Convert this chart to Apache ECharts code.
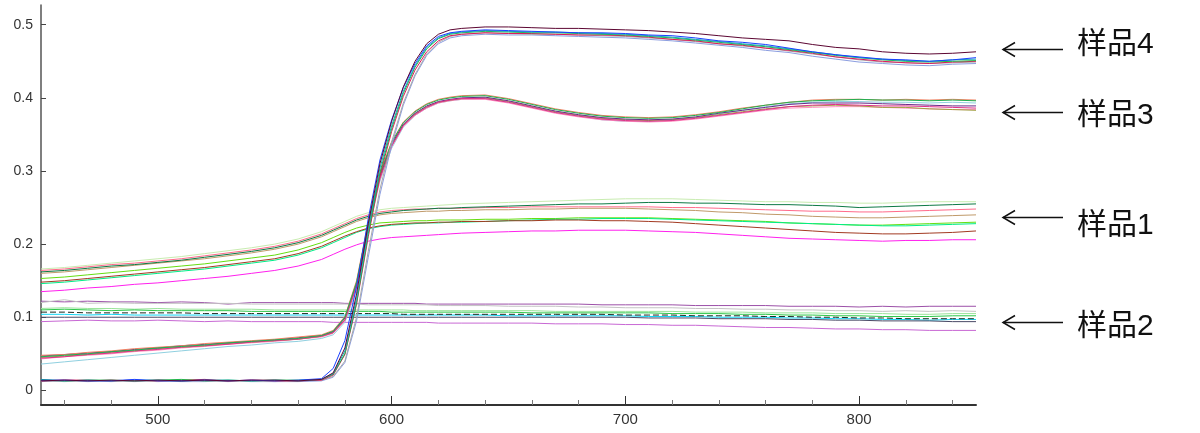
<!DOCTYPE html>
<html><head><meta charset="utf-8">
<script src="https://cdn.jsdelivr.net/npm/echarts@6/dist/echarts.min.js"></script>
<style>html,body{margin:0;padding:0;background:#fff}#c{width:1200px;height:433px}</style>
</head><body><div id="c"></div>
<script>
// wavelength grid (nm)
const wavelengths = [450,460,470,480,490,500,510,520,530,540,550,560,570, 575,580,585,590,595,600,605,610,615,620,625,630, 640,650,660,670,680,690,700,710,720,730,740,750,760,770,780,790,800,810,820,830,840,850];

// 样品4
const s4_maroon = [0.013,0.014,0.013,0.014,0.013,0.014,0.013,0.014,0.013,0.014,0.014,0.013,0.015, 0.024,0.058,0.132,0.228,0.31,0.368,0.415,0.45,0.474,0.487,0.493,0.495, 0.497,0.497,0.496,0.495,0.495,0.494,0.493,0.492,0.49,0.488,0.485,0.482,0.48,0.478,0.473,0.469,0.467,0.463,0.461,0.46,0.461,0.463];
const s4_blue = [0.014,0.014,0.013,0.013,0.015,0.013,0.013,0.014,0.013,0.014,0.013,0.014,0.016, 0.03,0.068,0.142,0.235,0.315,0.37,0.414,0.447,0.471,0.484,0.489,0.491, 0.493,0.492,0.491,0.49,0.489,0.489,0.488,0.486,0.485,0.482,0.478,0.476,0.473,0.468,0.463,0.459,0.456,0.453,0.452,0.45,0.452,0.455];
const s4_green = [0.015,0.013,0.014,0.014,0.013,0.014,0.015,0.013,0.014,0.013,0.014,0.014,0.015, 0.022,0.05,0.12,0.214,0.298,0.358,0.406,0.442,0.467,0.481,0.487,0.489, 0.491,0.49,0.489,0.489,0.488,0.487,0.486,0.484,0.482,0.479,0.476,0.473,0.47,0.466,0.462,0.458,0.455,0.452,0.45,0.449,0.45,0.451];
const s4_crimson = [0.013,0.014,0.014,0.013,0.014,0.013,0.014,0.015,0.013,0.014,0.013,0.013,0.014, 0.021,0.049,0.118,0.21,0.294,0.354,0.402,0.438,0.463,0.478,0.485,0.487, 0.489,0.488,0.488,0.487,0.486,0.486,0.485,0.483,0.48,0.478,0.474,0.472,0.468,0.465,0.461,0.456,0.453,0.45,0.448,0.447,0.449,0.45];
const s4_grayblue = [0.012,0.013,0.012,0.013,0.012,0.013,0.012,0.012,0.013,0.012,0.012,0.012,0.013, 0.018,0.038,0.095,0.182,0.268,0.335,0.39,0.43,0.458,0.474,0.482,0.485, 0.487,0.486,0.486,0.485,0.484,0.483,0.482,0.48,0.478,0.475,0.472,0.469,0.465,0.462,0.457,0.453,0.449,0.447,0.445,0.444,0.446,0.447];
const s4_gray = [0.013,0.012,0.013,0.012,0.013,0.012,0.013,0.013,0.012,0.013,0.012,0.013,0.014, 0.019,0.04,0.1,0.19,0.275,0.34,0.393,0.432,0.46,0.476,0.484,0.487, 0.489,0.488,0.487,0.487,0.486,0.485,0.484,0.482,0.48,0.477,0.474,0.471,0.468,0.464,0.46,0.456,0.452,0.449,0.448,0.447,0.448,0.449];
const s4_teal = [0.014,0.013,0.014,0.013,0.014,0.014,0.013,0.014,0.014,0.013,0.014,0.013,0.015, 0.023,0.054,0.126,0.221,0.304,0.362,0.409,0.444,0.469,0.482,0.488,0.49, 0.492,0.491,0.49,0.49,0.489,0.488,0.487,0.485,0.483,0.48,0.477,0.474,0.471,0.467,0.463,0.459,0.455,0.453,0.451,0.45,0.452,0.453];

// 样品3
const s3_green = [0.046,0.048,0.05,0.053,0.055,0.058,0.06,0.062,0.065,0.067,0.069,0.071,0.075, 0.081,0.1,0.148,0.228,0.295,0.339,0.366,0.381,0.391,0.397,0.4,0.402, 0.403,0.398,0.391,0.384,0.379,0.375,0.373,0.372,0.373,0.376,0.38,0.385,0.39,0.394,0.396,0.397,0.398,0.397,0.397,0.396,0.397,0.396];
const s3_salmon = [0.048,0.049,0.052,0.054,0.057,0.059,0.061,0.064,0.066,0.068,0.07,0.073,0.076, 0.082,0.101,0.15,0.23,0.297,0.34,0.367,0.382,0.392,0.398,0.401,0.403, 0.404,0.399,0.392,0.385,0.38,0.376,0.374,0.373,0.374,0.377,0.381,0.386,0.39,0.394,0.397,0.398,0.398,0.397,0.398,0.397,0.398,0.397];
const s3_magenta = [0.044,0.046,0.049,0.051,0.054,0.056,0.059,0.061,0.063,0.066,0.068,0.07,0.074, 0.079,0.096,0.143,0.222,0.29,0.334,0.362,0.377,0.387,0.394,0.397,0.399, 0.399,0.394,0.387,0.38,0.375,0.371,0.369,0.368,0.369,0.372,0.376,0.38,0.384,0.388,0.39,0.391,0.39,0.389,0.389,0.388,0.387,0.386];
const s3_olive = [0.045,0.047,0.049,0.052,0.054,0.057,0.059,0.061,0.064,0.066,0.068,0.07,0.074, 0.079,0.097,0.144,0.224,0.291,0.335,0.363,0.378,0.388,0.394,0.397,0.399, 0.4,0.395,0.388,0.381,0.376,0.372,0.37,0.369,0.37,0.373,0.377,0.381,0.385,0.388,0.389,0.39,0.389,0.387,0.387,0.385,0.384,0.383];
const s3_cyan = [0.036,0.039,0.042,0.045,0.048,0.051,0.054,0.057,0.06,0.062,0.065,0.067,0.071, 0.076,0.093,0.138,0.218,0.286,0.331,0.36,0.376,0.386,0.393,0.396,0.398, 0.399,0.394,0.387,0.38,0.375,0.37,0.368,0.368,0.37,0.373,0.378,0.383,0.388,0.392,0.394,0.395,0.395,0.394,0.394,0.393,0.394,0.393];
const s3_purple = [0.047,0.049,0.051,0.053,0.056,0.058,0.061,0.063,0.065,0.067,0.069,0.072,0.075, 0.08,0.099,0.146,0.226,0.293,0.337,0.364,0.379,0.389,0.395,0.398,0.4, 0.401,0.396,0.389,0.382,0.377,0.373,0.371,0.37,0.371,0.374,0.379,0.383,0.387,0.391,0.393,0.393,0.393,0.392,0.391,0.39,0.389,0.389];
const s3_pink = [0.043,0.046,0.048,0.05,0.053,0.055,0.058,0.06,0.063,0.065,0.067,0.07,0.073, 0.078,0.095,0.141,0.22,0.288,0.333,0.361,0.376,0.386,0.393,0.396,0.398, 0.398,0.393,0.386,0.379,0.374,0.37,0.368,0.367,0.368,0.371,0.375,0.379,0.383,0.386,0.387,0.388,0.388,0.387,0.386,0.385,0.384,0.384];

// 样品1
const s1_darkgreen = [0.162,0.164,0.167,0.17,0.172,0.175,0.178,0.182,0.186,0.19,0.195,0.202,0.212, 0.219,0.226,0.233,0.238,0.242,0.244,0.246,0.247,0.248,0.249,0.249,0.25, 0.251,0.252,0.253,0.254,0.255,0.255,0.256,0.257,0.257,0.256,0.256,0.255,0.254,0.254,0.253,0.252,0.25,0.251,0.252,0.253,0.254,0.255];
const s1_pink = [0.164,0.166,0.169,0.172,0.174,0.177,0.18,0.184,0.188,0.192,0.197,0.204,0.214, 0.221,0.228,0.235,0.24,0.244,0.246,0.247,0.248,0.248,0.249,0.249,0.249, 0.25,0.25,0.251,0.251,0.251,0.251,0.251,0.251,0.25,0.25,0.249,0.248,0.247,0.246,0.245,0.245,0.244,0.244,0.245,0.246,0.247,0.248];
const s1_tan = [0.16,0.162,0.165,0.168,0.171,0.174,0.177,0.18,0.184,0.188,0.193,0.2,0.21, 0.217,0.224,0.231,0.236,0.24,0.242,0.243,0.244,0.245,0.245,0.246,0.246, 0.247,0.247,0.248,0.248,0.249,0.249,0.249,0.248,0.247,0.246,0.244,0.243,0.241,0.24,0.238,0.237,0.236,0.236,0.237,0.238,0.239,0.24];
const s1_palegreen = [0.166,0.168,0.171,0.174,0.177,0.18,0.183,0.187,0.191,0.195,0.2,0.207,0.217, 0.224,0.231,0.238,0.243,0.247,0.249,0.25,0.251,0.252,0.253,0.254,0.255, 0.256,0.257,0.258,0.259,0.26,0.261,0.262,0.262,0.262,0.261,0.26,0.259,0.258,0.258,0.257,0.257,0.256,0.256,0.257,0.258,0.258,0.258];
const s1_springgreen = [0.146,0.148,0.151,0.154,0.157,0.16,0.163,0.166,0.17,0.174,0.178,0.185,0.195, 0.202,0.209,0.216,0.221,0.224,0.226,0.227,0.228,0.229,0.229,0.23,0.23, 0.231,0.232,0.233,0.234,0.234,0.235,0.235,0.235,0.234,0.233,0.232,0.231,0.23,0.229,0.228,0.227,0.226,0.225,0.225,0.226,0.227,0.228];
const s1_lime = [0.153,0.155,0.158,0.161,0.164,0.167,0.17,0.173,0.177,0.181,0.185,0.192,0.202, 0.209,0.216,0.222,0.226,0.229,0.23,0.231,0.232,0.232,0.233,0.233,0.233, 0.234,0.234,0.235,0.235,0.236,0.236,0.236,0.236,0.235,0.234,0.233,0.232,0.231,0.229,0.228,0.227,0.226,0.226,0.227,0.228,0.229,0.23];
const s1_brown = [0.148,0.15,0.153,0.156,0.159,0.162,0.165,0.168,0.172,0.176,0.18,0.187,0.197, 0.204,0.211,0.217,0.222,0.225,0.227,0.228,0.229,0.229,0.23,0.23,0.231, 0.231,0.232,0.232,0.233,0.233,0.232,0.232,0.231,0.23,0.228,0.226,0.224,0.222,0.22,0.218,0.216,0.215,0.214,0.214,0.215,0.216,0.218];
const s1_magenta = [0.135,0.137,0.14,0.142,0.145,0.147,0.15,0.153,0.156,0.16,0.164,0.17,0.179, 0.186,0.193,0.199,0.204,0.207,0.209,0.21,0.211,0.212,0.213,0.214,0.215, 0.216,0.217,0.218,0.218,0.219,0.219,0.219,0.218,0.217,0.216,0.214,0.212,0.21,0.208,0.207,0.206,0.205,0.204,0.205,0.205,0.206,0.206];

// 样品2
const s2_purple = [0.122,0.121,0.122,0.121,0.121,0.12,0.121,0.12,0.118,0.12,0.12,0.12,0.12, 0.12,0.119,0.119,0.119,0.119,0.119,0.119,0.119,0.118,0.118,0.118,0.118, 0.118,0.118,0.118,0.118,0.118,0.117,0.117,0.117,0.117,0.116,0.116,0.116,0.116,0.115,0.115,0.115,0.114,0.115,0.114,0.115,0.115,0.115];
const s2_lightgray = [0.12,0.124,0.119,0.12,0.119,0.119,0.119,0.119,0.119,0.118,0.118,0.118,0.118, 0.118,0.118,0.118,0.117,0.117,0.117,0.117,0.117,0.117,0.116,0.116,0.116, 0.116,0.115,0.115,0.115,0.114,0.114,0.113,0.113,0.113,0.112,0.112,0.111,0.111,0.11,0.11,0.109,0.109,0.108,0.109,0.108,0.109,0.108];
const s2_green = [0.11,0.111,0.11,0.109,0.11,0.109,0.109,0.109,0.109,0.108,0.108,0.108,0.108, 0.108,0.108,0.108,0.108,0.108,0.107,0.107,0.107,0.107,0.107,0.107,0.107, 0.107,0.107,0.106,0.106,0.106,0.106,0.106,0.106,0.105,0.105,0.105,0.104,0.104,0.103,0.103,0.102,0.102,0.101,0.101,0.101,0.102,0.102];
const s2_lightgreen = [0.112,0.113,0.112,0.112,0.111,0.112,0.111,0.111,0.111,0.111,0.11,0.11,0.11, 0.11,0.11,0.11,0.11,0.11,0.11,0.11,0.109,0.109,0.109,0.109,0.109, 0.109,0.109,0.109,0.108,0.108,0.108,0.108,0.108,0.108,0.107,0.107,0.107,0.106,0.106,0.106,0.105,0.105,0.105,0.104,0.104,0.105,0.105];
const s2_dark = [0.107,0.107,0.106,0.106,0.106,0.106,0.106,0.105,0.105,0.105,0.105,0.105,0.105, 0.105,0.105,0.105,0.105,0.105,0.105,0.104,0.104,0.104,0.104,0.104,0.104, 0.104,0.104,0.104,0.104,0.104,0.104,0.103,0.103,0.103,0.102,0.102,0.102,0.101,0.101,0.1,0.1,0.099,0.099,0.098,0.098,0.098,0.098];
const s2_cyan = [0.104,0.104,0.103,0.104,0.103,0.103,0.103,0.103,0.103,0.103,0.103,0.103,0.103, 0.103,0.103,0.103,0.103,0.103,0.103,0.103,0.103,0.103,0.103,0.103,0.103, 0.103,0.102,0.102,0.102,0.102,0.102,0.102,0.101,0.101,0.101,0.1,0.1,0.1,0.099,0.099,0.098,0.098,0.097,0.097,0.096,0.097,0.097];
const s2_slate = [0.1,0.1,0.1,0.1,0.1,0.1,0.1,0.1,0.1,0.1,0.1,0.1,0.1, 0.1,0.1,0.1,0.1,0.1,0.1,0.1,0.1,0.1,0.1,0.1,0.1, 0.1,0.1,0.1,0.1,0.1,0.1,0.1,0.099,0.099,0.099,0.098,0.098,0.098,0.097,0.097,0.096,0.096,0.095,0.095,0.095,0.094,0.094];
const s2_orchid = [0.094,0.095,0.096,0.095,0.095,0.096,0.095,0.094,0.095,0.094,0.094,0.094,0.094, 0.093,0.093,0.093,0.093,0.093,0.093,0.093,0.093,0.093,0.092,0.092,0.092, 0.092,0.092,0.092,0.091,0.091,0.091,0.09,0.09,0.089,0.089,0.088,0.087,0.086,0.086,0.085,0.084,0.084,0.083,0.083,0.082,0.082,0.082];

// axis ticks / labels
const xTickLabels = [500,600,700,800];
const xMinorTicks = [460,480,520,540,560,580,620,640,660,680,720,740,760,780,820,840];
const yTickLabels = [0,0.1,0.2,0.3,0.4,0.5];

// annotation labels and the level they point at
const annotLabels = ['样品4','样品3','样品1','样品2'];
const annotLevels = [0.4665,0.381,0.237,0.0935];
const annotTextShift = [-5,3,8,4];

const lines = [
  {ys:s2_purple,c:'#9c50a8'},{ys:s2_lightgray,c:'#c4c4c4'},{ys:s2_lightgreen,c:'#9ae49a'},{ys:s2_green,c:'#2ec84a'},
  {ys:s2_cyan,c:'#10d4f4'},{ys:s2_slate,c:'#4a4a66'},{ys:s2_dark,c:'#1e2a1e',dash:[6,3]},{ys:s2_orchid,c:'#c868d4'},
  {ys:s1_palegreen,c:'#c8ecb0'},{ys:s1_tan,c:'#c09a6a'},{ys:s1_pink,c:'#ff6a8a'},{ys:s1_darkgreen,c:'#0d7a45'},
  {ys:s1_lime,c:'#66dd11'},{ys:s1_springgreen,c:'#00ee88'},{ys:s1_brown,c:'#a33a22'},{ys:s1_magenta,c:'#ff20ee'},
  {ys:s3_cyan,c:'#90d0e0'},{ys:s3_pink,c:'#ff90c0'},{ys:s3_olive,c:'#a0a040'},{ys:s3_purple,c:'#6a2a8a'},
  {ys:s3_magenta,c:'#e0308a'},{ys:s3_salmon,c:'#f08060'},{ys:s3_green,c:'#20b050'},
  {ys:s4_grayblue,c:'#8c9ee0'},{ys:s4_gray,c:'#a8a8a8'},{ys:s4_crimson,c:'#e0185a'},{ys:s4_green,c:'#1fb84a'},
  {ys:s4_teal,c:'#18a8b8'},{ys:s4_blue,c:'#1a40ff'},{ys:s4_maroon,c:'#5c0632'}
];

const chart = echarts.init(document.getElementById('c'), null, {renderer:'canvas'});
const option = {
  animation:false,
  backgroundColor:'#fff',
  grid:{left:41,right:224,top:5,bottom:28,containLabel:false},
  xAxis:[{
    type:'value',min:450,max:850,
    axisLine:{show:true,onZero:false,lineStyle:{color:'#333',width:2}},
    axisTick:{show:true,inside:true,length:5,customValues:xMinorTicks,lineStyle:{color:'#777',width:1}},
    axisLabel:{show:true,margin:7,customValues:xTickLabels,color:'#333',fontSize:15,fontFamily:'Liberation Sans, Arial, sans-serif'},
    splitLine:{show:false}
  },{
    type:'value',min:450,max:850,position:'bottom',
    axisLine:{show:false,onZero:false},
    axisTick:{show:true,inside:true,length:9,customValues:xTickLabels,lineStyle:{color:'#333',width:1}},
    axisLabel:{show:false},
    splitLine:{show:false}
  }],
  yAxis:{
    type:'value',min:-0.02,max:0.527,
    axisLine:{show:true,onZero:false,lineStyle:{color:'#555',width:1.5}},
    axisTick:{show:true,inside:true,length:5,customValues:yTickLabels,lineStyle:{color:'#444',width:1}},
    axisLabel:{show:true,margin:8,customValues:yTickLabels,color:'#333',fontSize:14,fontFamily:'Liberation Sans, Arial, sans-serif',formatter:v=>String(Math.round(v*10)/10)},
    splitLine:{show:false}
  },
  series: lines.map(l=>({
    type:'line',xAxisIndex:0,showSymbol:false,symbol:'none',
    lineStyle:{color:l.c,width:1,type:l.dash||'solid'},
    emphasis:{disabled:true},
    data: l.ys.map((y,i)=>[wavelengths[i],y])
  }))
};
chart.setOption(option);

const g = [];
annotLevels.forEach((v,i)=>{
  const y = Math.round(chart.convertToPixel({yAxisIndex:0}, v)) + 0.5;
  g.push({type:'line',shape:{x1:1003,y1:y,x2:1063,y2:y},style:{stroke:'#111',lineWidth:1.5}});
  g.push({type:'polyline',shape:{points:[[1015,y-7],[1003,y],[1015,y+7]]},style:{stroke:'#111',lineWidth:1.5,fill:null}});
  g.push({type:'text',x:1077,y:y+annotTextShift[i],style:{text:annotLabels[i],fill:'#111',font:'30px "Liberation Sans", "Noto Sans CJK SC", sans-serif',textVerticalAlign:'middle',textAlign:'left'}});
});
chart.setOption({graphic:g});
</script>
</body></html>
